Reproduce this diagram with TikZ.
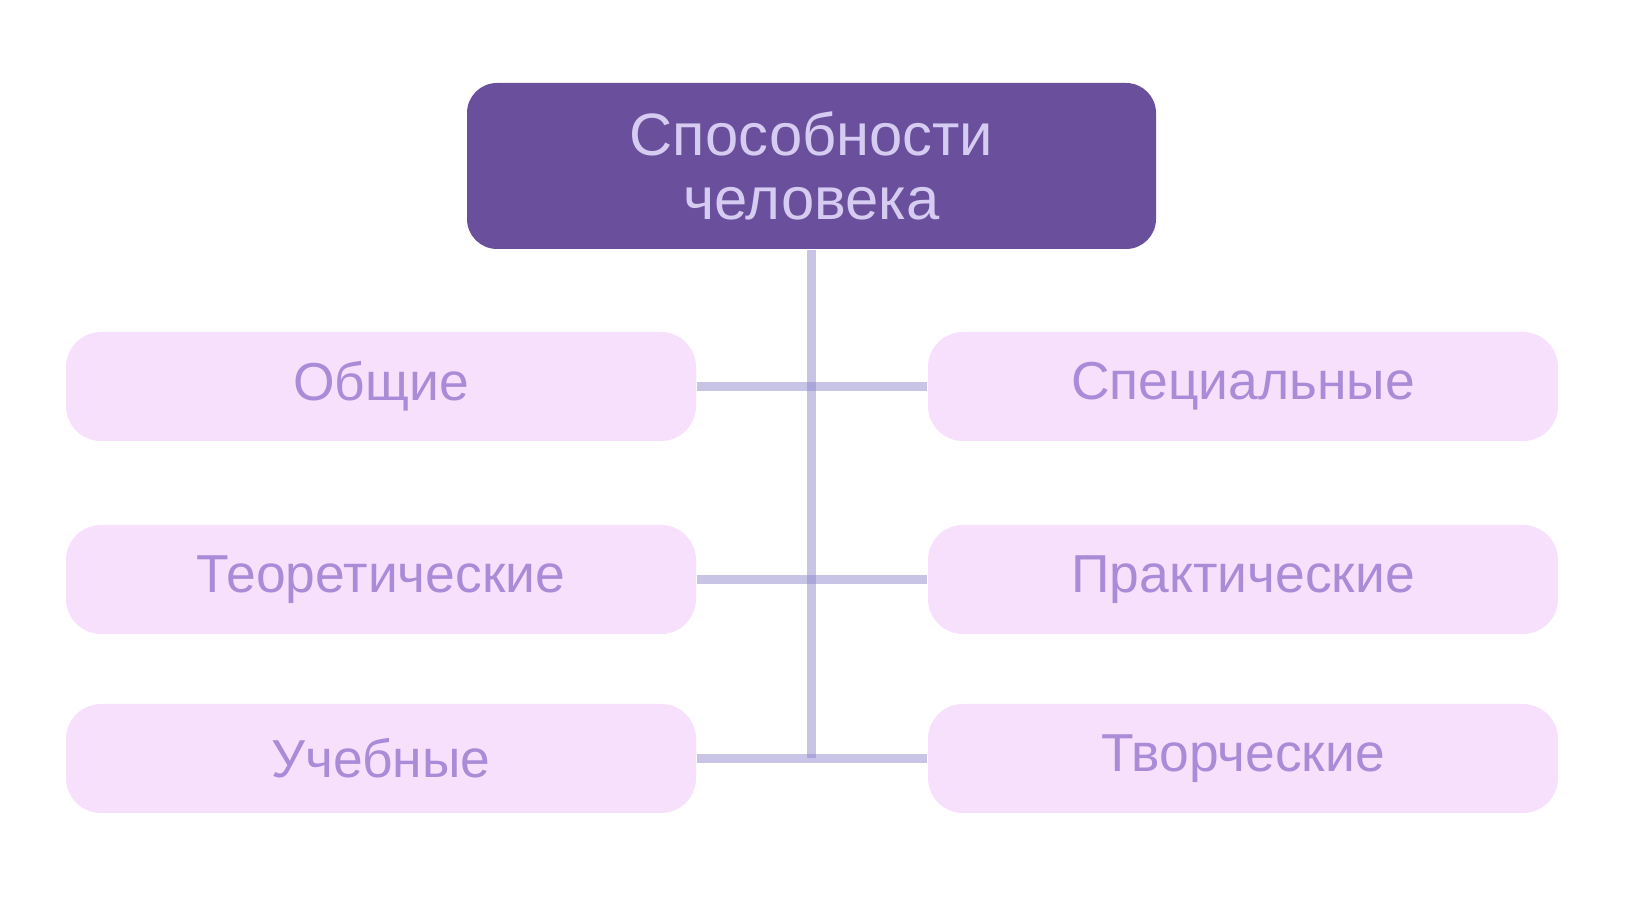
\documentclass[tikz,border=0pt]{standalone}
\usepackage{fontspec}
\setmainfont{Liberation Sans}
\usepackage{xcolor}
\definecolor{topfill}{HTML}{6A4F9C}
\definecolor{toptext}{HTML}{D6CBF0}
\definecolor{boxfill}{HTML}{F7E0FB}
\definecolor{boxtext}{HTML}{A88CD8}
\definecolor{linkcol}{HTML}{8F89CC}

\begin{document}
\begin{tikzpicture}[x=1cm,y=1cm,
	topbox/.style={fill=topfill,rounded corners=0.3cm,minimum width=6.89cm,minimum height=1.66cm,align=center,text=toptext,font=\fontsize{17}{18}\selectfont},
	kindbox/.style={fill=boxfill,rounded corners=0.35cm,minimum width=6.3cm,minimum height=1.09cm,text=boxtext,font=\fontsize{15.2}{18}\selectfont},
	link/.style={draw=linkcol,line width=2.8pt,opacity=0.5}]
	\useasboundingbox (0,0) rectangle (16.26,9.01);
	\node[topbox] (root) at (8.115,7.35) {Способности\\человека};
	\node[kindbox] (obsh) at (3.81,5.145) {Общие};
	\node[kindbox] (spec) at (12.43,5.145) {Специальные};
	\node[kindbox] (teor) at (3.81,3.215) {Теоретические};
	\node[kindbox] (prakt) at (12.43,3.215) {Практические};
	\node[kindbox] (ucheb) at (3.81,1.425) {Учебные};
	\node[kindbox] (tvor) at (12.43,1.425) {Творческие};
	% stem and branches
	\coordinate (stemend) at (root.south |- ucheb.east);
	\draw[link] (root.south) -- (stemend);
	\draw[link] (obsh.east) -- (spec.west);
	\draw[link] (teor.east) -- (prakt.west);
	\draw[link] (ucheb.east) -- (tvor.west);
\end{tikzpicture}
\end{document}
